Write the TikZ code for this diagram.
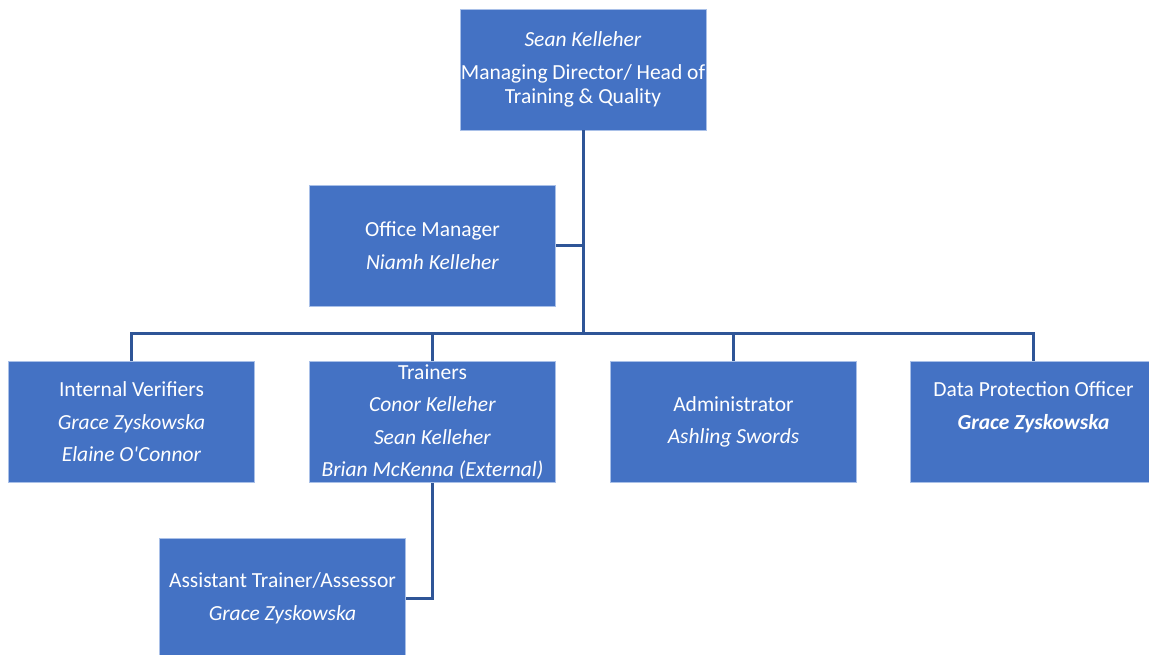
\documentclass[tikz,border=0pt]{standalone}
\usepackage{fontspec}
\setmainfont{Carlito}[Ligatures=TeXOff]
\definecolor{boxfill}{HTML}{4472C4}
\definecolor{boxedge}{HTML}{A9C0E8}
\definecolor{linkcol}{HTML}{2F5597}
\begin{document}
\begin{tikzpicture}[x=1pt,y=-1pt,
  orgbox/.style={rectangle, fill=boxfill, draw=boxedge, line width=0.8pt,
    minimum width=246pt, minimum height=121pt, inner sep=0pt, text=white,
    align=center, font=\fontsize{21.5}{24.5}\selectfont},
  link/.style={draw=linkcol, line width=3pt}]
\useasboundingbox (0,0) rectangle (1149,655);
\node[orgbox] (top) at (583,69.5) {\textit{Sean Kelleher}\\[8pt]Managing Director/ Head of\\Training \& Quality};
\node[orgbox] (office) at (432.5,245.5) {Office Manager\\[8pt]\textit{Niamh Kelleher}};
\node[orgbox] (iv) at (131.5,422) {Internal Verifiers\\[8pt]\textit{Grace Zyskowska}\\[8pt]\textit{Elaine O'Connor}};
\node[orgbox] (trainers) at (432.5,422) {Trainers\\[8pt]\textit{Conor Kelleher}\\[8pt]\textit{Sean Kelleher}\\[8pt]\textit{Brian McKenna (External)}};
\node[orgbox] (admin) at (733.5,422) {Administrator\\[8pt]\textit{Ashling Swords}};
\node[orgbox] (dpo) at (1033.5,422) {Data Protection Officer\\[8pt]\textbf{\textit{Grace Zyskowska}}\\[8pt]\phantom{\textit{Elaine O'Connor}}};
\node[orgbox] (assist) at (282.5,598.5) {Assistant Trainer/Assessor\\[8pt]\textit{Grace Zyskowska}};
\coordinate (bus) at (583,333);
\draw[link] (top.south) -- (bus);
\draw[link] (office.east) -- (top.south |- office.east);
\draw[link] (iv.north) |- (bus) -| (dpo.north);
\draw[link] (trainers.north) -- (trainers.north |- bus);
\draw[link] (admin.north) -- (admin.north |- bus);
\draw[link] (trainers.south) |- (assist.east);
\end{tikzpicture}
\end{document}
